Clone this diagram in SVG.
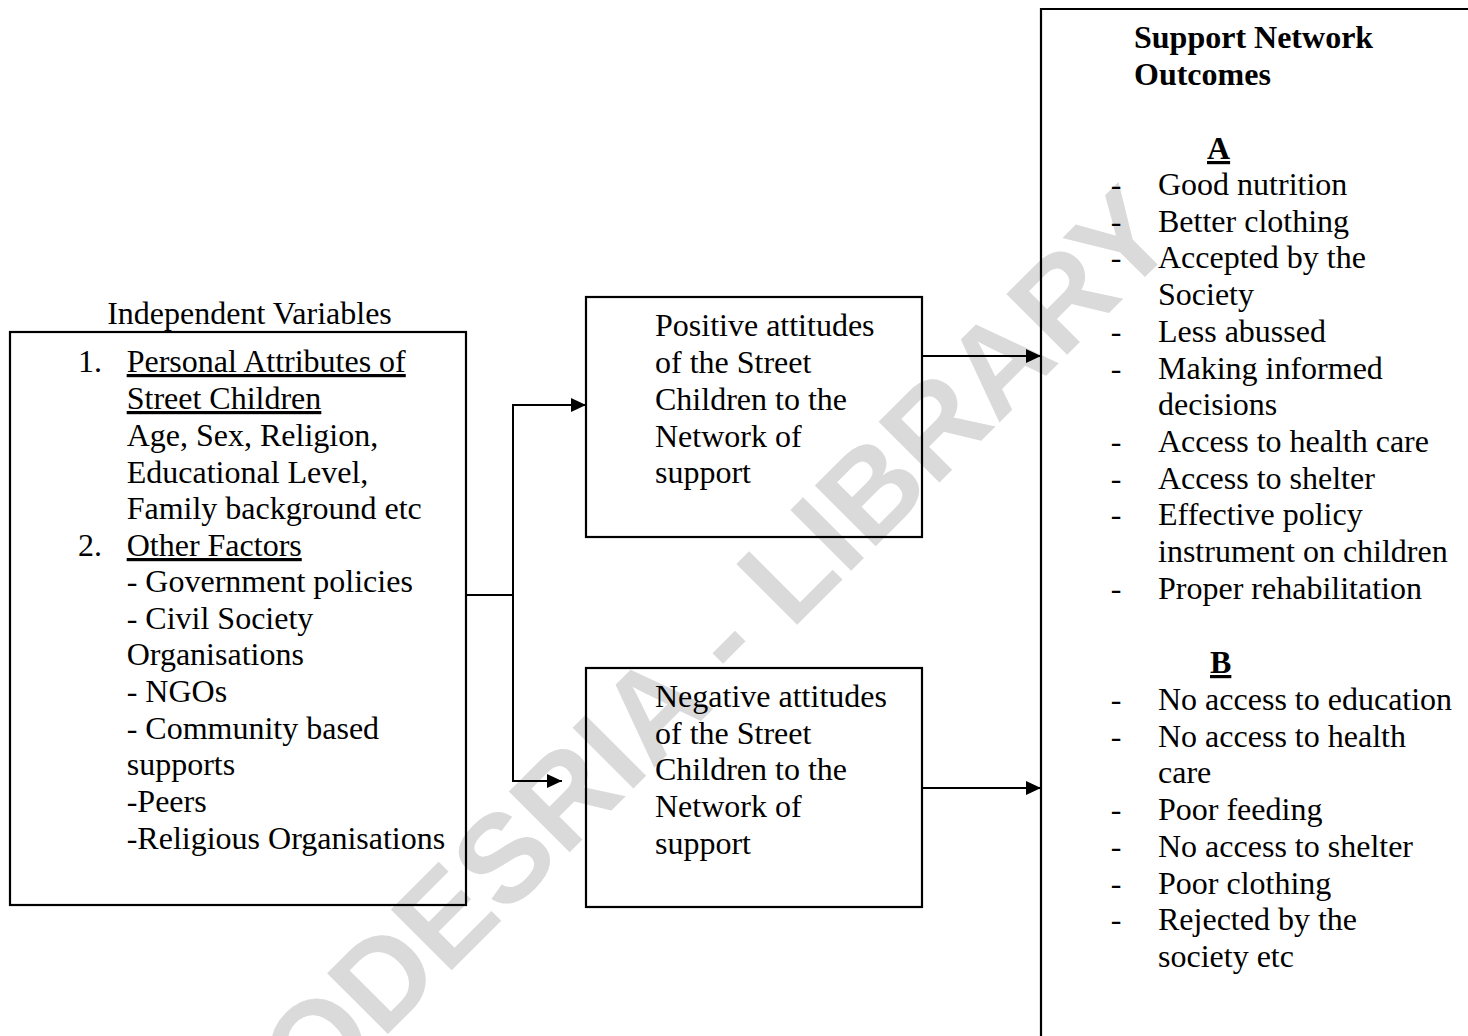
<svg xmlns="http://www.w3.org/2000/svg" width="1468" height="1036" viewBox="0 0 1468 1036">
<style>
.t{font-family:"Liberation Serif","Times New Roman",serif;font-size:32px;fill:#000}
.b{font-weight:bold}
.u{text-decoration:underline}
.box{fill:none;stroke:#000;stroke-width:2.2}
.con{fill:none;stroke:#000;stroke-width:2}
.wm{font-family:"Liberation Sans",Arial,sans-serif;font-size:125px;font-weight:bold;fill:#dadada}
</style>
<defs>
<marker id="arr" markerUnits="userSpaceOnUse" markerWidth="16" markerHeight="14" refX="15" refY="7" orient="auto">
<path d="M0,0 L15,7 L0,14 Z" fill="#000"/>
</marker>
</defs>
<rect x="0" y="0" width="1468" height="1036" fill="#fff"/>
<g id="watermark">
<text class="wm" x="0" y="0" text-anchor="middle" transform="translate(715,707) rotate(-45)">CODESRIA - LIBRARY</text>
</g>
<g id="node-independent">
<text class="t" x="249.5" y="324" text-anchor="middle">Independent Variables</text>
<rect class="box" x="10" y="332" width="456" height="573"/>
<text class="t" x="78" y="372">1.</text>
<text class="t u" x="126.7" y="372">Personal Attributes of</text>
<text class="t u" x="126.7" y="409">Street Children</text>
<text class="t" x="126.7" y="446">Age, Sex, Religion,</text>
<text class="t" x="126.7" y="483">Educational Level,</text>
<text class="t" x="126.7" y="519">Family background etc</text>
<text class="t" x="78" y="556">2.</text>
<text class="t u" x="126.7" y="556">Other Factors</text>
<text class="t" x="126.7" y="592">- Government policies</text>
<text class="t" x="126.7" y="629">- Civil Society</text>
<text class="t" x="126.7" y="665">Organisations</text>
<text class="t" x="126.7" y="702">- NGOs</text>
<text class="t" x="126.7" y="739">- Community based</text>
<text class="t" x="126.7" y="775">supports</text>
<text class="t" x="126.7" y="812">-Peers</text>
<text class="t" x="126.7" y="849">-Religious Organisations</text>
</g>
<g id="node-positive">
<rect class="box" x="586" y="297" width="336" height="240"/>
<text class="t" x="655" y="336">Positive attitudes</text>
<text class="t" x="655" y="373">of the Street</text>
<text class="t" x="655" y="410">Children to the</text>
<text class="t" x="655" y="446.7">Network of</text>
<text class="t" x="655" y="483.3">support</text>
</g>
<g id="node-negative">
<rect class="box" x="586" y="668" width="336" height="239"/>
<text class="t" x="655" y="707">Negative attitudes</text>
<text class="t" x="655" y="743.5">of the Street</text>
<text class="t" x="655" y="780">Children to the</text>
<text class="t" x="655" y="817">Network of</text>
<text class="t" x="655" y="853.5">support</text>
</g>
<g id="node-outcomes">
<path class="box" d="M1041,1040 V9 H1470"/>
<text class="t b" x="1134" y="48">Support Network</text>
<text class="t b" x="1134" y="85">Outcomes</text>
<text class="t b u" x="1207" y="159">A</text>
<g class="t">
<text x="1110.7" y="195">-</text><text x="1158" y="195">Good nutrition</text>
<text x="1110.7" y="231.7">-</text><text x="1158" y="231.7">Better clothing</text>
<text x="1110.7" y="268.4">-</text><text x="1158" y="268.4">Accepted by the</text>
<text x="1158" y="305.1">Society</text>
<text x="1110.7" y="341.8">-</text><text x="1158" y="341.8">Less abussed</text>
<text x="1110.7" y="378.5">-</text><text x="1158" y="378.5">Making informed</text>
<text x="1158" y="415.2">decisions</text>
<text x="1110.7" y="451.9">-</text><text x="1158" y="451.9">Access to health care</text>
<text x="1110.7" y="488.6">-</text><text x="1158" y="488.6">Access to shelter</text>
<text x="1110.7" y="525.3">-</text><text x="1158" y="525.3">Effective policy</text>
<text x="1158" y="562">instrument on children</text>
<text x="1110.7" y="598.7">-</text><text x="1158" y="598.7">Proper rehabilitation</text>
</g>
<text class="t b u" x="1210" y="673">B</text>
<g class="t">
<text x="1110.7" y="710">-</text><text x="1158" y="710">No access to education</text>
<text x="1110.7" y="746.7">-</text><text x="1158" y="746.7">No access to health</text>
<text x="1158" y="783.4">care</text>
<text x="1110.7" y="820.1">-</text><text x="1158" y="820.1">Poor feeding</text>
<text x="1110.7" y="856.8">-</text><text x="1158" y="856.8">No access to shelter</text>
<text x="1110.7" y="893.5">-</text><text x="1158" y="893.5">Poor clothing</text>
<text x="1110.7" y="930.2">-</text><text x="1158" y="930.2">Rejected by the</text>
<text x="1158" y="966.9">society etc</text>
</g>
</g>
<g id="connectors">
<path class="con" d="M466,595 H513"/>
<path class="con" d="M513,596 V405 H586" marker-end="url(#arr)"/>
<path class="con" d="M513,594 V781 H562" marker-end="url(#arr)"/>
<path class="con" d="M922,356 H1041" marker-end="url(#arr)"/>
<path class="con" d="M922,788 H1041" marker-end="url(#arr)"/>
</g>
</svg>
